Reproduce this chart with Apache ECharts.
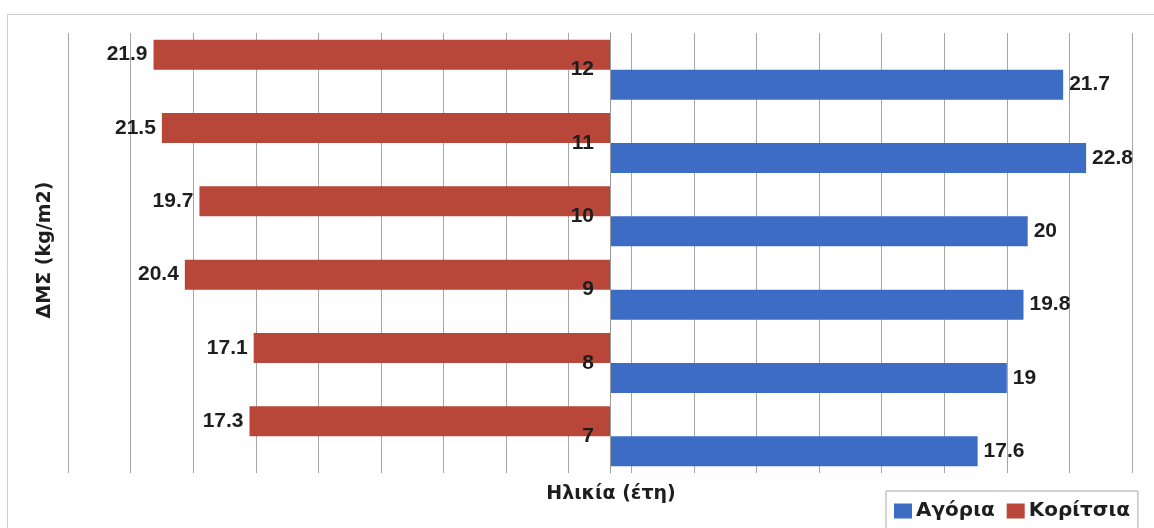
<!DOCTYPE html>
<html>
<head>
    <meta charset="utf-8">
    <title>ΔΜΣ ανά ηλικία και φύλο</title>
    <script src="https://cdn.jsdelivr.net/npm/echarts@6.0.0/dist/echarts.min.js"></script>
    <style>
        html, body {
            margin: 0;
            padding: 0;
            background: #fff;
        }
        #chart-container {
            width: 1154px;
            height: 528px;
        }
    </style>
</head>
<body>
<div id="chart-container"></div>

<script>
    // Δεδομένα
    var ages = ['7', '8', '9', '10', '11', '12'];
    var boys = [17.6, 19, 19.8, 20, 22.8, 21.7];
    var girls = [17.3, 17.1, 20.4, 19.7, 21.5, 21.9];
    // κάθετες γραμμές πλέγματος (αριστερά / δεξιά του μηδενός)
    var gridTicks = [-26, -23, -20, -17, -14, -11, -8, -5, -2, 1, 4, 7, 10, 13, 16, 19, 22, 25];

    var FONT = '"Liberation Sans", Arial, sans-serif';
    var FONT2 = '"DejaVu Sans", Verdana, sans-serif';
    var RED = '#B8473A';
    var BLUE = '#3D6CC5';

    var myChart = echarts.init(document.getElementById('chart-container'));

    var labelStyle = {
        show: true,
        distance: 6,
        fontFamily: FONT,
        fontWeight: 'bold',
        fontSize: 21,
        color: '#1e1e1e',
        formatter: function (p) { return Math.abs(p.value); }
    };

    var option = {
        animation: false,
        grid: {
            left: 68,
            right: 22,
            top: 33,
            bottom: 55
        },
        legend: {
            data: ['Αγόρια', 'Κορίτσια'],
            left: 886,
            top: 491,
            padding: [10, 8, 14, 8],
            borderColor: '#a8a8a8',
            borderWidth: 1,
            icon: 'rect',
            itemWidth: 18,
            itemHeight: 15,
            itemGap: 12,
            textStyle: {
                fontFamily: FONT2,
                fontWeight: 'bold',
                fontSize: 20,
                color: '#1e1e1e',
                padding: [0, 0, 0, -1]
            }
        },
        xAxis: {
            type: 'value',
            min: -26,
            max: 25,
            axisLine: { show: false },
            axisLabel: { show: false },
            axisTick: { show: false, customValues: gridTicks },
            splitLine: {
                show: true,
                lineStyle: { color: '#a6a6a6', width: 1 }
            }
        },
        yAxis: {
            type: 'category',
            data: ages,
            z: 10,
            // άξονας στο μηδέν (κέντρο)
            offset: -542,
            axisLine: {
                onZero: false,
                lineStyle: { color: '#9a9a9a' }
            },
            axisTick: {
                length: 4,
                lineStyle: { color: '#9a9a9a' }
            },
            axisLabel: {
                margin: 16,
                fontFamily: FONT,
                fontWeight: 'bold',
                fontSize: 21,
                color: '#1e1e1e'
            }
        },
        graphic: [
            {
                type: 'rect',
                silent: true,
                shape: { x: 7.5, y: 14.5, width: 1160, height: 540 },
                style: { fill: 'none', stroke: '#cfcfcf', lineWidth: 1 }
            },
            {
                type: 'text',
                x: 611,
                y: 494,
                style: {
                    text: 'Ηλικία (έτη)',
                    font: 'bold 19px ' + FONT2,
                    fill: '#1e1e1e',
                    textAlign: 'center',
                    textVerticalAlign: 'middle'
                }
            },
            {
                type: 'text',
                x: 45,
                y: 250,
                rotation: Math.PI / 2,
                style: {
                    text: 'ΔΜΣ (kg/m2)',
                    font: 'bold 19px ' + FONT2,
                    fill: '#1e1e1e',
                    textAlign: 'center',
                    textVerticalAlign: 'middle'
                }
            }
        ],
        series: [
            {
                name: 'Κορίτσια',
                type: 'bar',
                barWidth: 30,
                barGap: '0%',
                itemStyle: { color: RED },
                label: Object.assign({ position: 'left' }, labelStyle),
                data: girls.map(function (v) { return -v; })
            },
            {
                name: 'Αγόρια',
                type: 'bar',
                barWidth: 30,
                barGap: '0%',
                itemStyle: { color: BLUE },
                label: Object.assign({ position: 'right' }, labelStyle),
                data: boys
            }
        ]
    };

    myChart.setOption(option);
</script>
</body>
</html>
